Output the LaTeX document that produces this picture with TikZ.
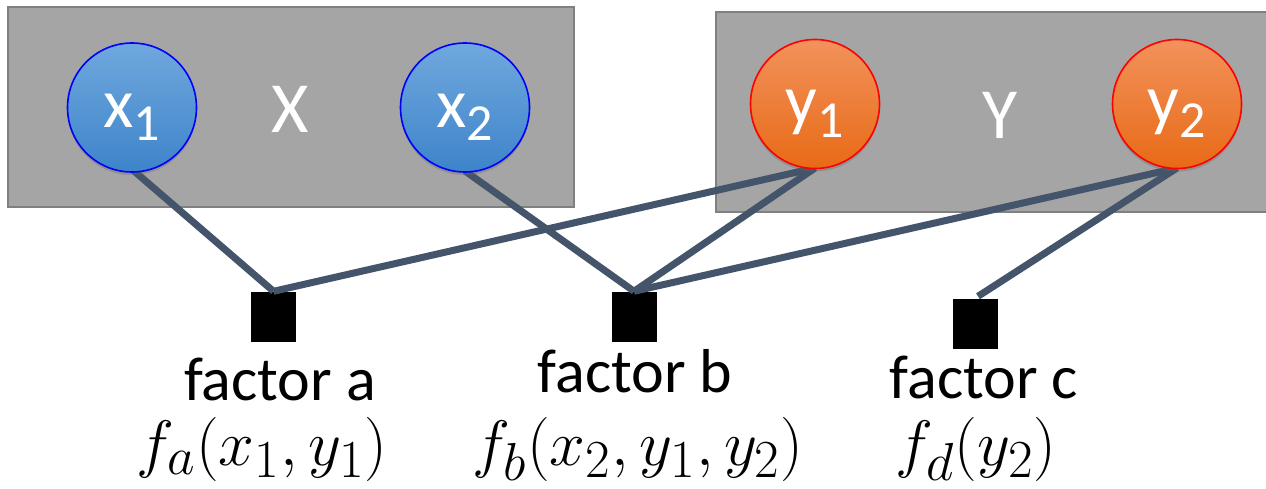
\documentclass[tikz,border=0pt]{standalone}
\usepackage{fontspec}
\setmainfont{Carlito}
\usepackage{graphicx}
\usetikzlibrary{shadows}
\definecolor{boxgray}{RGB}{165,165,165}
\definecolor{boxedge}{RGB}{128,128,128}
\definecolor{linkc}{RGB}{68,84,106}
\definecolor{bluetop}{RGB}{112,168,222}
\definecolor{bluebot}{RGB}{62,132,202}
\definecolor{orgtop}{RGB}{242,146,92}
\definecolor{orgbot}{RGB}{232,106,22}
\tikzset{
  group/.style={fill=boxgray,draw=boxedge,line width=2pt},
  var/.style={circle,minimum size=129pt,inner sep=0pt,line width=1.6pt,text=white,
    font=\fontsize{70}{70}\selectfont,text height=40pt,text depth=0pt,
    drop shadow={shadow xshift=0pt,shadow yshift=-3pt,opacity=0.35,fill=black!60}},
  xvar/.style={var,draw=blue,top color=bluetop,bottom color=bluebot},
  yvar/.style={var,draw=red,top color=orgtop,bottom color=orgbot},
  factorbox/.style={fill=black,minimum width=45pt,minimum height=50pt,inner sep=0pt},
  link/.style={draw=linkc,line width=7pt},
  flabel/.style={font=\fontsize{62}{62}\selectfont,inner sep=0pt,anchor=base},
  mlabel/.style={inner sep=0pt,anchor=base},
  grouplabel/.style={text=white,font=\fontsize{72}{72}\selectfont,inner sep=0pt}
}
\newcommand{\vlab}[2]{#1\raisebox{-0.19em}{\fontsize{52}{52}\selectfont #2}}
\newcommand{\bigmath}[1]{\scalebox{2.58}{\Huge$#1$}}
\begin{document}
\begin{tikzpicture}[x=1pt,y=-1pt]
\useasboundingbox (0,0) rectangle (1266,489);
\begin{scope}
\clip (0,0) rectangle (1266,489);
\draw[group] (8,7) rectangle (574,207);
\draw[group] (716,12) rectangle (1290,212);
\end{scope}
\node[grouplabel] (X) at (290,109) {X};
\node[grouplabel] (Y) at (1000,115) {Y};
% factor squares
\node[factorbox] (fa) at (273.5,316.5) {};
\node[factorbox] (fb) at (634,316.5) {};
\node[factorbox] (fc) at (975,323.5) {};
% variable node positions
\coordinate (x1c) at (132,107.5);
\coordinate (x2c) at (465,107.5);
\coordinate (y1c) at (815,104);
\coordinate (y2c) at (1177,104);
% links (drawn first, under circles)
\draw[link] (134,171) coordinate (x1s) -- (fa.north);
\draw[link] (465,171) coordinate (x2s) -- (fb.north);
\draw[link] (815,168) coordinate (y1s) -- (fa.north);
\draw[link] (y1s) -- (fb.north);
\draw[link] (1177,168) coordinate (y2s) -- (fb.north);
\draw[link] (y2s) -- ([xshift=3pt,yshift=2pt]fc.north);
% variables
\node[xvar] (x1) at (x1c) {\vlab{x}{1}};
\node[xvar] (x2) at (x2c) {\vlab{x}{2}};
\node[yvar] (y1) at (y1c) {\vlab{y}{1}};
\node[yvar] (y2) at (y2c) {\vlab{y}{2}};
% labels
\node[flabel] (la) at (280,400) {factor a};
\node[flabel] (lb) at (635,392) {factor b};
\node[flabel] (lc) at (984,398) {factor c};
\node[mlabel] (ma) at (262,465) {\bigmath{f_a(x_1,y_1)}};
\node[mlabel] (mb) at (638,465) {\bigmath{f_b(x_2,y_1,y_2)}};
\node[mlabel] (mc) at (976,465) {\bigmath{f_d(y_2)}};
\end{tikzpicture}
\end{document}
